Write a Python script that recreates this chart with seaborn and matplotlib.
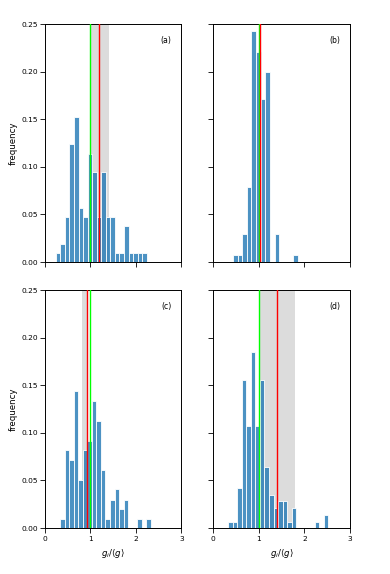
import numpy as np
import pandas as pd
import matplotlib
matplotlib.use("Agg")
import matplotlib.pyplot as plt
import seaborn as sns

# ---- data ----
panel_labels = ["(a)", "(b)", "(c)", "(d)"]

a_start, a_width = 0.24, 0.1
a_freq = [0.0095, 0.019, 0.0476, 0.124, 0.152, 0.057, 0.0476, 0.114, 0.095, 0.0476,
          0.095, 0.0476, 0.0476, 0.0095, 0.0095, 0.038, 0.0095, 0.0095, 0.0095, 0.0095]

b_start, b_width = 0.43, 0.102
b_freq = [0.0077, 0.0077, 0.029, 0.079, 0.243, 0.221, 0.171, 0.2, 0.0, 0.029,
          0.0, 0.0, 0.0, 0.0077]

c_start, c_width = 0.333, 0.1
c_freq = [0.0098, 0.0816, 0.0714, 0.1436, 0.0508, 0.0816, 0.0917, 0.133, 0.112, 0.061,
          0.0098, 0.030, 0.0406, 0.020, 0.030, 0.0, 0.0, 0.0098, 0.0, 0.0098]

d_start, d_width = 0.324, 0.1
d_freq = [0.0067, 0.0067, 0.042, 0.156, 0.107, 0.185, 0.107, 0.156, 0.064, 0.035,
          0.021, 0.028, 0.028, 0.0067, 0.021, 0.0, 0.0, 0.0, 0.0, 0.0067, 0.0, 0.014]

true_value = [1.0, 1.0, 1.0, 1.0]
estimate = [1.20, 1.03, 0.92, 1.40]
interval_lo = [1.00, 1.01, 0.82, 1.00]
interval_hi = [1.41, 1.05, 0.93, 1.80]

xticks = [0, 1, 2, 3]
yticks = [0.00, 0.05, 0.10, 0.15, 0.20, 0.25]

panels = [(a_start, a_width, a_freq), (b_start, b_width, b_freq),
          (c_start, c_width, c_freq), (d_start, d_width, d_freq)]

fig, axes = plt.subplots(2, 2, figsize=(3.9, 5.74), dpi=100, sharex=True, sharey=True)
fig.subplots_adjust(left=0.115, right=0.897, top=0.958, bottom=0.080,
                    wspace=0.235, hspace=0.118)

bar_color = "#1f77b4"
for i, ax in enumerate(axes.flat):
    start, width, freq = panels[i]
    n = len(freq)
    edges = [float(start + width * k) for k in range(n + 1)]
    centers = [(edges[k] + edges[k + 1]) / 2 for k in range(n)]
    df = pd.DataFrame({"g": centers, "w": freq})
    ax.axvspan(interval_lo[i], interval_hi[i], color="#dcdcdc", zorder=0, lw=0)
    sns.histplot(data=df, x="g", weights="w", bins=edges, ax=ax, color=bar_color,
                 alpha=0.8, edgecolor="white", linewidth=0.6, zorder=2)
    ax.axvline(true_value[i], color="#00ff00", lw=1.0, zorder=3)
    ax.axvline(estimate[i], color="red", lw=1.0, zorder=4)
    ax.text(0.89, 0.93, panel_labels[i], transform=ax.transAxes,
            ha="center", va="center", fontsize=5.6)
    ax.set_xlim(0, 3)
    ax.set_ylim(0, 0.25)
    ax.set_xticks(xticks)
    ax.set_yticks(yticks)
    ax.set_yticklabels([f"{v:.2f}" for v in yticks])
    ax.tick_params(axis="both", labelsize=5.4, length=3.5, width=0.6)
    ax.tick_params(axis="y", pad=1.2)
    ax.tick_params(axis="x", pad=2.5)
    for s in ax.spines.values():
        s.set_linewidth(0.7)
    ax.set_ylabel("")
    ax.set_xlabel("")

for ax in axes[:, 0]:
    ax.set_ylabel("frequency", fontsize=6.2, labelpad=3)
for ax in axes[1, :]:
    ax.set_xlabel(r"$g_i/\langle g\rangle$", fontsize=6.2, labelpad=3)

fig.savefig("out.png", dpi=100)
